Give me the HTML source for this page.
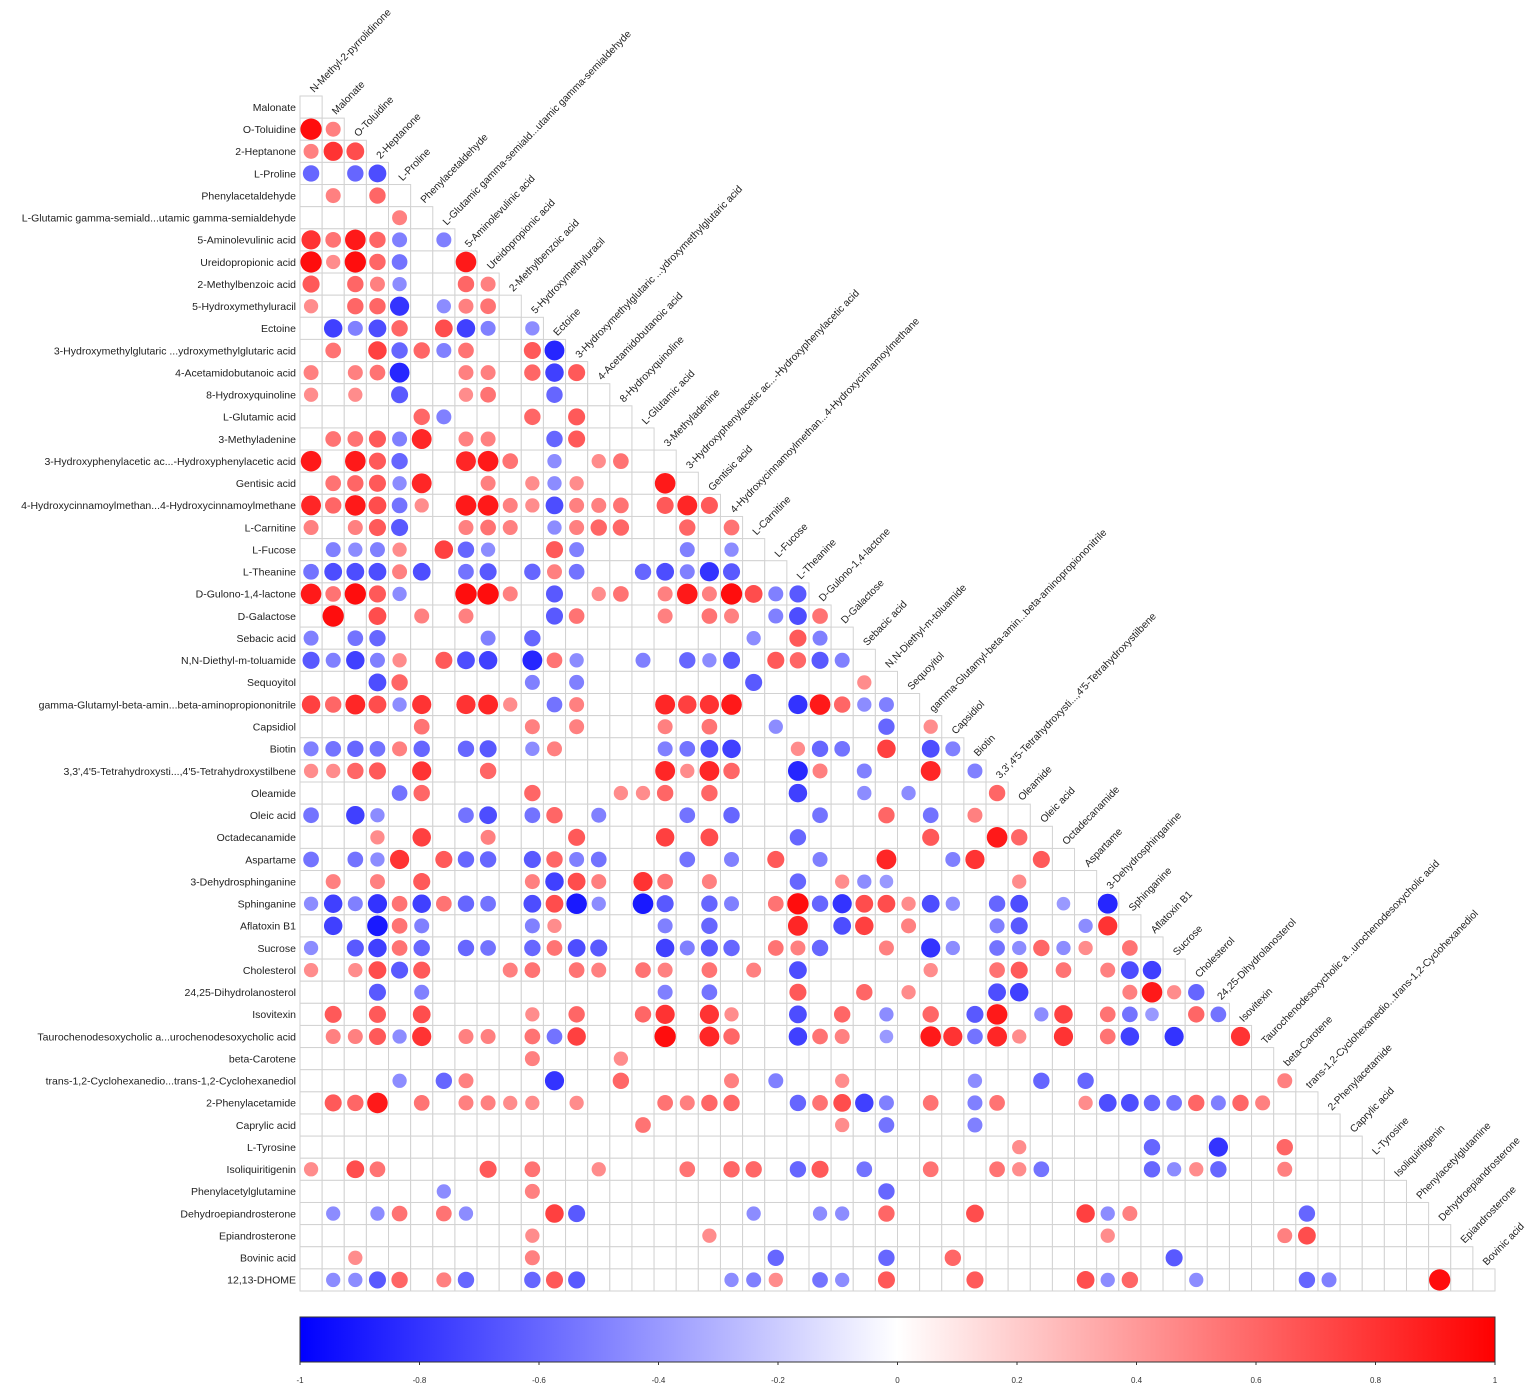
<!DOCTYPE html>
<html><head><meta charset="utf-8"><title>Correlation matrix</title>
<style>
html,body{margin:0;padding:0;background:#fff;}
svg{display:block;font-family:"Liberation Sans",Arial,sans-serif;}
</style></head>
<body>
<svg id="chart" width="1535" height="1388" viewBox="0 0 1535 1388" xmlns="http://www.w3.org/2000/svg">
<g id="grid"></g>
<g id="marks"></g>
<g id="rowlabels"></g>
<g id="collabels"></g>
<defs>
<linearGradient id="cbgrad" x1="0" x2="1" y1="0" y2="0">
<stop offset="0" stop-color="#0000ff"/><stop offset="0.5" stop-color="#ffffff"/><stop offset="1" stop-color="#ff0000"/>
</linearGradient>
</defs>
<g id="colorbar"></g>
</svg>
<script>
const variables = ["N-Methyl-2-pyrrolidinone","Malonate","O-Toluidine","2-Heptanone","L-Proline","Phenylacetaldehyde","L-Glutamic gamma-semiald...utamic gamma-semialdehyde","5-Aminolevulinic acid","Ureidopropionic acid","2-Methylbenzoic acid","5-Hydroxymethyluracil","Ectoine","3-Hydroxymethylglutaric ...ydroxymethylglutaric acid","4-Acetamidobutanoic acid","8-Hydroxyquinoline","L-Glutamic acid","3-Methyladenine","3-Hydroxyphenylacetic ac...-Hydroxyphenylacetic acid","Gentisic acid","4-Hydroxycinnamoylmethan...4-Hydroxycinnamoylmethane","L-Carnitine","L-Fucose","L-Theanine","D-Gulono-1,4-lactone","D-Galactose","Sebacic acid","N,N-Diethyl-m-toluamide","Sequoyitol","gamma-Glutamyl-beta-amin...beta-aminopropiononitrile","Capsidiol","Biotin","3,3',4'5-Tetrahydroxysti...,4'5-Tetrahydroxystilbene","Oleamide","Oleic acid","Octadecanamide","Aspartame","3-Dehydrosphinganine","Sphinganine","Aflatoxin B1","Sucrose","Cholesterol","24,25-Dihydrolanosterol","Isovitexin","Taurochenodesoxycholic a...urochenodesoxycholic acid","beta-Carotene","trans-1,2-Cyclohexanedio...trans-1,2-Cyclohexanediol","2-Phenylacetamide","Caprylic acid","L-Tyrosine","Isoliquiritigenin","Phenylacetylglutamine","Dehydroepiandrosterone","Epiandrosterone","Bovinic acid","12,13-DHOME"];

// Each row: list of [columnIndex, correlation]
const r00 = [];
const r01 = [[0,.95],[1,.5]];
const r02 = [[0,.5],[1,.8],[2,.7]];
const r03 = [[0,-.6],[2,-.6],[3,-.7]];
const r04 = [[1,.5],[3,.6]];
const r05 = [[4,.5]];
const r06 = [[0,.8],[1,.55],[2,.9],[3,.6],[4,-.5],[6,-.5]];
const r07 = [[0,.95],[1,.45],[2,.95],[3,.6],[4,-.55],[7,.9]];
const r08 = [[0,.65],[2,.6],[3,.5],[4,-.45],[7,.6],[8,.5]];
const r09 = [[0,.45],[2,.6],[3,.6],[4,-.8],[6,-.45],[7,.5],[8,.55]];
const r10 = [[1,-.75],[2,-.5],[3,-.7],[4,.6],[6,.7],[7,-.75],[8,-.5],[10,-.45]];
const r11 = [[1,.55],[3,.75],[4,-.6],[5,.6],[6,-.5],[7,.55],[10,.65],[11,-.85]];
const r12 = [[0,.5],[2,.5],[3,.55],[4,-.85],[7,.5],[8,.5],[10,.6],[11,-.75],[12,.65]];
const r13 = [[0,.45],[2,.45],[4,-.65],[7,.45],[8,.55],[11,-.6]];
const r14 = [[5,.6],[6,-.5],[10,.6],[12,.65]];
const r15 = [[1,.55],[2,.55],[3,.65],[4,-.5],[5,.85],[7,.5],[8,.5],[11,-.6],[12,.65]];
const r16 = [[0,.9],[2,.9],[3,.65],[4,-.6],[7,.85],[8,.9],[9,.55],[11,-.45],[13,.45],[14,.55]];
const r17 = [[1,.55],[2,.6],[3,.65],[4,-.45],[5,.85],[8,.5],[10,.45],[11,-.45],[12,.45],[16,.9]];
const r18 = [[0,.85],[1,.6],[2,.9],[3,.7],[4,-.55],[5,.45],[7,.9],[8,.9],[9,.5],[10,.45],[11,-.7],[12,.5],[13,.5],[14,.55],[16,.65],[17,.85],[18,.65]];
const r19 = [[0,.5],[2,.5],[3,.65],[4,-.65],[7,.5],[8,.55],[9,.5],[11,-.45],[12,.5],[13,.6],[14,.6],[17,.6],[19,.55]];
const r20 = [[1,-.5],[2,-.45],[3,-.5],[4,.45],[6,.75],[7,-.6],[8,-.45],[11,.65],[12,-.5],[17,-.5],[19,-.45]];
const r21 = [[0,-.55],[1,-.7],[2,-.7],[3,-.7],[4,.5],[5,-.7],[7,-.55],[8,-.65],[10,-.6],[11,.5],[12,-.55],[15,-.6],[16,-.7],[17,-.5],[18,-.8],[19,-.65]];
const r22 = [[0,.9],[1,.55],[2,.95],[3,.65],[4,-.45],[7,.95],[8,.95],[9,.5],[11,-.65],[13,.45],[14,.55],[16,.5],[17,.9],[18,.5],[19,.95],[20,.7],[21,-.5],[22,-.65]];
const r23 = [[1,.95],[3,.7],[5,.5],[7,.5],[11,-.65],[12,.55],[16,.5],[18,.55],[19,.5],[21,-.5],[22,-.7],[23,.55]];
const r24 = [[0,-.5],[2,-.55],[3,-.6],[8,-.5],[10,-.6],[20,-.45],[22,.65],[23,-.5]];
const r25 = [[0,-.65],[1,-.5],[2,-.75],[3,-.5],[4,.45],[6,.65],[7,-.7],[8,-.75],[10,-.85],[11,.55],[12,-.45],[15,-.5],[17,-.6],[18,-.45],[19,-.65],[21,.65],[22,.6],[23,-.65],[24,-.5]];
const r26 = [[3,-.7],[4,.6],[10,-.5],[12,-.5],[20,-.65],[25,.45]];
const r27 = [[0,.75],[1,.6],[2,.85],[3,.7],[4,-.45],[5,.8],[7,.8],[8,.85],[9,.45],[11,-.55],[12,.5],[16,.85],[17,.75],[18,.8],[19,.9],[22,-.8],[23,.9],[24,.6],[25,-.45],[26,-.5]];
const r28 = [[5,.55],[10,.5],[12,.5],[16,.5],[18,.55],[21,-.45],[26,-.6],[28,.45]];
const r29 = [[0,-.5],[1,-.55],[2,-.6],[3,-.55],[4,.5],[5,-.6],[7,-.6],[8,-.65],[10,-.45],[11,.5],[16,-.5],[17,-.55],[18,-.7],[19,-.75],[22,.45],[23,-.6],[24,-.55],[26,.75],[28,-.7],[29,-.5]];
const r30 = [[0,.45],[1,.45],[2,.6],[3,.65],[5,.8],[8,.6],[16,.85],[17,.45],[18,.85],[19,.6],[22,-.85],[23,.5],[25,-.5],[28,.85],[30,-.5]];
const r31 = [[4,-.55],[5,.6],[10,.6],[14,.45],[15,.45],[16,.6],[18,.6],[22,-.75],[25,-.45],[27,-.45],[31,.6]];
const r32 = [[0,-.55],[2,-.75],[3,-.45],[7,-.55],[8,-.7],[10,-.55],[11,.6],[13,-.5],[17,-.55],[19,-.6],[23,-.55],[26,.6],[28,-.55],[30,.5]];
const r33 = [[3,.45],[5,.75],[8,.5],[12,.65],[16,.75],[18,.7],[22,-.6],[28,.65],[31,.9],[32,.6]];
const r34 = [[0,-.55],[2,-.55],[3,-.45],[4,.8],[6,.65],[7,-.6],[8,-.6],[10,-.65],[11,.6],[12,-.5],[13,-.55],[17,-.55],[19,-.5],[21,.65],[23,-.5],[26,.85],[29,-.5],[30,.8],[33,.65]];
const r35 = [[1,.5],[3,.5],[5,.65],[10,.5],[11,-.75],[12,.7],[13,.5],[15,.8],[16,.55],[18,.5],[22,-.6],[24,.45],[25,-.45],[26,-.4],[32,.45]];
const r36 = [[0,-.45],[1,-.75],[2,-.5],[3,-.8],[4,.55],[5,-.75],[6,.55],[7,-.6],[8,-.55],[10,-.7],[11,.7],[12,-.9],[13,-.45],[15,-.9],[16,-.65],[18,-.6],[19,-.5],[21,.55],[22,.95],[23,-.6],[24,-.8],[25,.7],[26,.7],[27,.45],[28,-.7],[29,-.45],[31,-.6],[32,-.7],[34,-.4],[36,-.85]];
const r37 = [[1,-.75],[3,-.9],[4,.55],[5,-.5],[10,-.5],[11,.45],[16,-.5],[18,-.6],[22,.85],[24,-.7],[25,.75],[27,.5],[31,-.5],[32,-.65],[35,-.45],[36,.8]];
const r38 = [[0,-.45],[2,-.65],[3,-.75],[4,.55],[5,-.6],[7,-.6],[8,-.55],[10,-.6],[11,.55],[12,-.7],[13,-.65],[16,-.75],[17,-.5],[18,-.65],[19,-.6],[21,.55],[22,.5],[23,-.6],[26,.5],[28,-.8],[29,-.45],[31,-.55],[32,-.45],[33,.6],[34,-.45],[35,.45],[37,.55]];
const r39 = [[0,.45],[2,.45],[3,.7],[4,-.65],[5,.65],[9,.5],[10,.55],[12,.55],[13,.5],[15,.55],[16,.5],[18,.55],[20,.5],[22,-.7],[28,.45],[31,.55],[32,.65],[34,.55],[36,.5],[37,-.7],[38,-.75]];
const r40 = [[3,-.65],[5,-.5],[16,-.5],[18,-.55],[22,.65],[25,.6],[27,.45],[31,-.7],[32,-.75],[37,.5],[38,.9],[39,.45],[40,-.6]];
const r41 = [[1,.65],[3,.65],[5,.7],[10,.45],[12,.6],[15,.6],[16,.8],[18,.8],[19,.45],[22,-.7],[24,.6],[26,-.45],[28,.6],[30,-.65],[31,.9],[33,-.45],[34,.75],[36,.55],[37,-.55],[38,-.4],[40,.6],[41,-.55]];
const r42 = [[1,.5],[2,.5],[3,.65],[4,-.45],[5,.8],[7,.5],[8,.5],[10,.55],[11,-.55],[12,.75],[16,.95],[18,.85],[19,.6],[22,-.75],[23,.55],[24,.5],[26,-.4],[28,.9],[29,.8],[30,-.55],[31,.85],[32,.45],[34,.8],[36,.55],[37,-.75],[39,-.8],[42,.8]];
const r43 = [[10,.5],[14,.45]];
const r44 = [[4,-.45],[6,-.6],[7,.5],[11,-.8],[14,.6],[19,.5],[21,-.5],[24,.45],[30,-.45],[33,-.6],[35,-.6],[44,.5]];
const r45 = [[1,.65],[2,.6],[3,.9],[5,.55],[7,.5],[8,.5],[9,.45],[10,.45],[12,.45],[16,.55],[17,.5],[18,.6],[19,.6],[22,-.6],[23,.55],[24,.7],[25,-.75],[26,-.5],[28,.55],[30,-.5],[31,.55],[35,.45],[36,-.7],[37,-.7],[38,-.6],[39,-.55],[40,.6],[41,-.5],[42,.6],[43,.5]];
const r46 = [[15,.55],[24,.45],[26,-.55],[30,-.5]];
const r47 = [[32,.45],[38,-.6],[41,-.8],[44,.6]];
const r48 = [[0,.45],[2,.7],[3,.55],[8,.65],[10,.55],[13,.45],[17,.55],[19,.6],[20,.6],[22,-.6],[23,.65],[25,-.55],[28,.55],[31,.55],[32,.45],[33,-.55],[38,-.6],[39,-.45],[40,.45],[41,-.6],[44,.5]];
const r49 = [[6,-.45],[10,.5],[26,-.6]];
const r50 = [[1,-.45],[3,-.45],[4,.55],[6,.55],[7,-.45],[11,.75],[12,-.65],[20,-.45],[23,-.45],[24,-.45],[26,.6],[30,.7],[35,.75],[36,-.45],[37,.5],[45,-.6]];
const r51 = [[10,.45],[18,.45],[36,.45],[44,.5],[45,.7]];
const r52 = [[2,.45],[10,.5],[21,-.6],[26,-.6],[29,.6],[39,-.65]];
const r53 = [[1,-.45],[2,-.45],[3,-.65],[4,.6],[6,.5],[7,-.6],[10,-.6],[11,.65],[12,-.65],[19,-.45],[20,-.5],[21,.45],[23,-.55],[24,-.45],[26,.65],[30,.65],[35,.7],[36,-.45],[37,.6],[40,-.45],[45,-.6],[46,-.5],[51,.95]];
const matrixRows = [r00,r01,r02,r03,r04,r05,r06,r07,r08,r09,r10,r11,r12,r13,r14,r15,r16,r17,r18,r19,r20,r21,r22,r23,r24,r25,r26,r27,r28,r29,r30,r31,r32,r33,r34,r35,r36,r37,r38,r39,r40,r41,r42,r43,r44,r45,r46,r47,r48,r49,r50,r51,r52,r53];
const legendTicks = [-1,-0.8,-0.6,-0.4,-0.2,0,0.2,0.4,0.6,0.8,1];

const NS = "http://www.w3.org/2000/svg";
const X0 = 300, Y0 = 96, CELL = 1195/54;
const nRows = matrixRows.length;
function xCol(c){ return X0 + CELL*(c+0.5); }
function yRow(r){ return Y0 + CELL*(r+0.5); }
function colorFor(v){
  const t = Math.min(1, Math.abs(v));
  const k = Math.round(255*(1-t));
  return v >= 0 ? `rgb(255,${k},${k})` : `rgb(${k},${k},255)`;
}
function radiusFor(v){ return 4 + 7*Math.abs(v); }
function mk(tag, attrs){ const e = document.createElementNS(NS, tag); for (const k in attrs) e.setAttribute(k, attrs[k]); return e; }

const gGrid = document.getElementById('grid');
const gMarks = document.getElementById('marks');
const gRow = document.getElementById('rowlabels');
const gCol = document.getElementById('collabels');

for (let r = 0; r < nRows; r++) {
  for (let c = 0; c <= r; c++) {
    const cell = mk('rect', {x: X0 + CELL*c, y: Y0 + CELL*r, width: CELL, height: CELL, fill: '#fff', stroke: '#d2d2d2', 'stroke-width': 1});
    
    
    gGrid.appendChild(cell);
  }
  const lab = mk('text', {x: 296, y: yRow(r) + 3.8, 'text-anchor': 'end', 'font-size': 10.5, fill: '#222'});
  lab.textContent = variables[r+1];
  
  
  gRow.appendChild(lab);
  const tx = xCol(r) + 3, ty = Y0 + CELL*r - 3;
  const cl = mk('text', {x: tx, y: ty, 'font-size': 10.2, fill: '#222', transform: `rotate(-46 ${tx} ${ty})`});
  cl.textContent = variables[r];
  
  
  gCol.appendChild(cl);
  matrixRows[r].forEach(([c, v]) => {
    const circ = mk('circle', {cx: xCol(c), cy: yRow(r), r: radiusFor(v), fill: colorFor(v)});
    
    
    gMarks.appendChild(circ);
  });
}

const gBar = document.getElementById('colorbar');
const BX = 300, BW = 1195, BY = 1317, BH = 45;
const bar = mk('rect', {x: BX, y: BY, width: BW, height: BH, fill: 'url(#cbgrad)', stroke: '#333', 'stroke-width': 1});


gBar.appendChild(bar);
legendTicks.forEach(v => {
  const x = BX + (v+1)/2*BW;
  const tk = mk('line', {x1: x, x2: x, y1: BY+BH, y2: BY+BH+3, stroke: '#333', 'stroke-width': 1});
  
  
  gBar.appendChild(tk);
  const t = mk('text', {x: x, y: 1383, 'text-anchor': 'middle', 'font-size': 8, fill: '#333'});
  t.textContent = String(v);
  
  
  gBar.appendChild(t);
});
</script>
</body></html>
